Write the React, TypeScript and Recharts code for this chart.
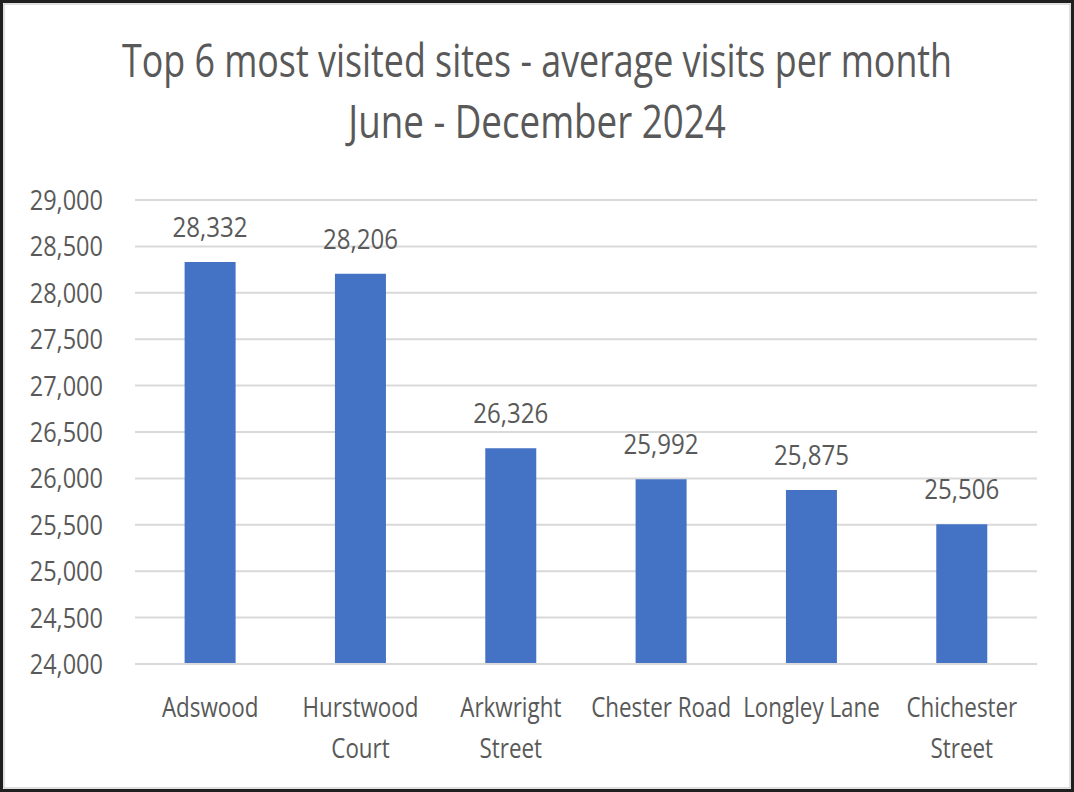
import React from "react";
import { BarChart, Bar, XAxis, YAxis, CartesianGrid, LabelList } from "recharts";

const categories = ["Adswood", "Hurstwood Court", "Arkwright Street", "Chester Road", "Longley Lane", "Chichester Street"];
const visits = [28332, 28206, 26326, 25992, 25875, 25506];
const categoryLabelLines: string[][] = [
  ["Adswood"],
  ["Hurstwood", "Court"],
  ["Arkwright", "Street"],
  ["Chester Road"],
  ["Longley Lane"],
  ["Chichester", "Street"],
];
const yTicks = [24000, 24500, 25000, 25500, 26000, 26500, 27000, 27500, 28000, 28500, 29000];
const titleLines = ["Top 6 most visited sites - average visits per month", "June - December 2024"];

const data = categories.map((c, i) => ({ name: c, value: visits[i] }));

const FONT = "'Open Sans', 'Noto Sans', sans-serif";
const TEXT = "#595959";
const fmt = (v: number) => v.toLocaleString("en-US");

const YTick = (props: any) => {
  const { x, y, payload } = props;
  return (
    <text
      transform={`translate(${x},${y + 10}) scale(0.84,1)`}
      textAnchor="end"
      fontFamily={FONT}
      fontSize={28}
      fill={TEXT}
    >
      {fmt(payload.value)}
    </text>
  );
};

const XTick = (props: any) => {
  const { x, y, payload, index } = props;
  const idx = categories.indexOf(payload.value);
  const lines = categoryLabelLines[idx >= 0 ? idx : index] || [String(payload.value)];
  return (
    <g>
      {lines.map((l, i) => (
        <text
          key={i}
          transform={`translate(${x},${y + 53 + i * 41}) scale(0.8,1)`}
          textAnchor="middle"
          fontFamily={FONT}
          fontSize={28}
          fill={TEXT}
        >
          {l}
        </text>
      ))}
    </g>
  );
};

const ValueLabel = (props: any) => {
  const { x, y, width, value } = props;
  return (
    <text
      transform={`translate(${x + width / 2},${y - 25}) scale(0.86,1)`}
      textAnchor="middle"
      fontFamily={FONT}
      fontSize={28}
      fill={TEXT}
    >
      {fmt(value)}
    </text>
  );
};

export default function App() {
  return (
    <div style={{ position: "absolute", left: 0, top: 0, width: 1074, height: 792, background: "#fff" }}>
      <BarChart
        width={1074}
        height={792}
        data={data}
        margin={{ top: 200, right: 37, bottom: 0, left: 0 }}
        barCategoryGap="33%"
      >
        <CartesianGrid vertical={false} stroke="#d9d9d9" strokeWidth={2} />
        <XAxis
          dataKey="name"
          height={128}
          axisLine={{ stroke: "#d9d9d9", strokeWidth: 2 }}
          tickLine={false}
          tickSize={0}
          tickMargin={0}
          interval={0}
          tick={<XTick />}
        />
        <YAxis
          domain={[24000, 29000]}
          ticks={yTicks}
          width={135}
          axisLine={false}
          tickLine={false}
          tickSize={0}
          tickMargin={32}
          interval={0}
          tick={<YTick />}
        />
        <Bar dataKey="value" fill="#4472c4" isAnimationActive={false}>
          <LabelList dataKey="value" content={<ValueLabel />} />
        </Bar>
      </BarChart>
      <svg
        width={1074}
        height={792}
        style={{ position: "absolute", left: 0, top: 0, pointerEvents: "none" }}
      >
        <text
          transform="translate(537,77) scale(0.72,1)"
          textAnchor="middle"
          fontFamily={FONT}
          fontSize={45}
          fill={TEXT}
          textLength={1153}
          lengthAdjust="spacingAndGlyphs"
        >
          {titleLines[0]}
        </text>
        <text
          transform="translate(537,138) scale(0.72,1)"
          textAnchor="middle"
          fontFamily={FONT}
          fontSize={45}
          fill={TEXT}
          textLength={524}
          lengthAdjust="spacingAndGlyphs"
        >
          {titleLines[1]}
        </text>
        <rect x={1.5} y={1.5} width={1071} height={789} fill="none" stroke="#1f1f1f" strokeWidth={3} />
        <rect x={4} y={4} width={1066} height={784} fill="none" stroke="#bfbfbf" strokeWidth={1} />
      </svg>
    </div>
  );
}
